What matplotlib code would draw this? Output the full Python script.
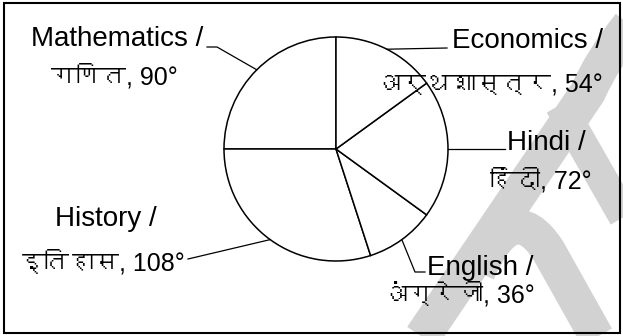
import matplotlib
matplotlib.use("Agg")
import matplotlib.pyplot as plt
from matplotlib import font_manager
from matplotlib.patches import Rectangle, PathPatch
from matplotlib.path import Path
import numpy as np

# subjects in pie order (counter clockwise from 12 o'clock)
subjects = ["Mathematics", "History", "English", "Hindi", "Economics"]
hindi_names = ["गणित", "इतिहास", "अंग्रेजी", "हिंदी", "अर्थशास्त्र"]
degrees = [90, 108, 36, 72, 54]

W, H = 623, 336
cx, cy, R = 336, 149, 112   # pie centre / radius in pixels (from top)


def find_deva_font():
    # look for any installed font that has devanagari glyphs
    try:
        from fontTools.ttLib import TTFont
    except Exception:
        return None
    for f in font_manager.fontManager.ttflist:
        try:
            tt = TTFont(f.fname, fontNumber=0, lazy=True)
            cmap = tt.getBestCmap()
            if cmap and 0x0917 in cmap and 0x0923 in cmap:
                return f.name
        except Exception:
            continue
    return None


deva = find_deva_font()
fam = ["Liberation Sans"] + ([deva] if deva else []) + ["DejaVu Sans"]

# label layout: (line1 x, ha1, base1, line2 x, ha2, base2, leader points after the circle point)
layout = {
    "Mathematics": (203, "right", 46, 178, "right", 85, [(217, 47), (207, 47)]),
    "History": (55, "left", 226, 185, "right", 270, [(188, 259)]),
    "English": (427, "left", 275, 535, "right", 302, [(415, 272), (425, 272)]),
    "Hindi": (507, "left", 150, 592, "right", 189, [(505, 149)]),
    "Economics": (452, "left", 48, 603, "right", 92, [(447, 48)]),
}

fig = plt.figure(figsize=(W / 100, H / 100), dpi=100)
ax = fig.add_axes([0, 0, 1, 1])

# faint watermark behind everything (rough shape)
wm = "#d2d2d2"
def wm_path(verts, codes, lw):
    v = [(x, H - y) for x, y in verts]
    ax.add_patch(PathPatch(Path(v, codes), fill=False, edgecolor=wm, lw=lw,
                           capstyle="butt", zorder=0))

wm_path([(412, 352), (588, 92), (602, 60), (630, 25)],
        [Path.MOVETO, Path.LINETO, Path.CURVE3, Path.CURVE3], 26)
wm_path([(560, 105), (640, 245)], [Path.MOVETO, Path.LINETO], 22)
wm_path([(478, 272), (512, 195), (548, 250), (603, 348)],
        [Path.MOVETO, Path.CURVE3, Path.CURVE3, Path.LINETO], 25)

wedges, _ = ax.pie(degrees, startangle=90, counterclock=True, colors=["white"] * 5,
                   center=(cx, H - cy), radius=R,
                   wedgeprops=dict(edgecolor="black", linewidth=1.1))
ax.set_xlim(0, W)
ax.set_ylim(0, H)
ax.axis("off")

for w, name, hn, deg in zip(wedges, subjects, hindi_names, degrees):
    mid = np.deg2rad((w.theta1 + w.theta2) / 2)
    x0 = cx + R * np.cos(mid)
    y0 = H - cy + R * np.sin(mid)
    x1, ha1, b1, x2, ha2, b2, pts = layout[name]
    xs = [x0] + [p[0] for p in pts]
    ys = [y0] + [H - p[1] for p in pts]
    ax.plot(xs, ys, color="black", lw=0.9)
    ax.text(x1, H - b1, name + " /", ha=ha1, va="baseline", fontsize=20, family=fam)
    ax.text(x2, H - b2, f"{hn}, {deg}°", ha=ha2, va="baseline", fontsize=18, family=fam)

ax.add_patch(Rectangle((4, 3), 616, 330, fill=False, edgecolor="black", lw=1.5))

fig.savefig("out.png", dpi=100)
